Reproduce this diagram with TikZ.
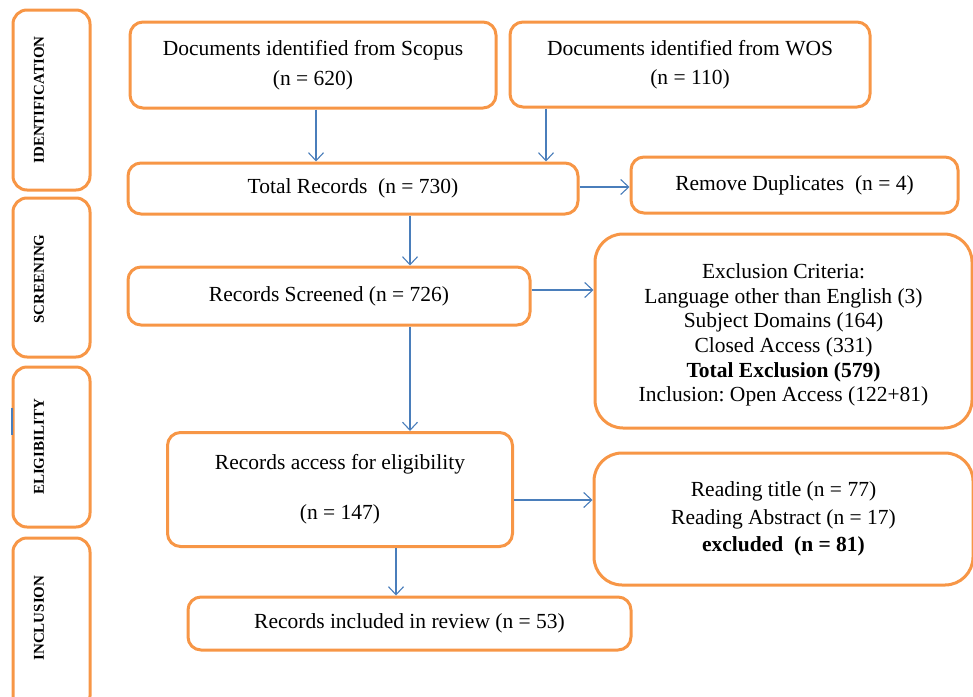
\documentclass[tikz,border=0pt]{standalone}
\usepackage{fontspec}
\setmainfont{Liberation Serif}
\usetikzlibrary{arrows.meta}
\definecolor{boxorange}{HTML}{F79646}
\definecolor{arrblue}{HTML}{4A7EBB}
\begin{document}
\begin{tikzpicture}[x=1pt,y=-1pt,
  txt/.style={inner sep=0pt, align=center, font=\fontsize{21.5}{24.6}\selectfont},
  box/.style={draw=boxorange, line width=3pt, rounded corners=13pt, fill=white, txt},
  bigbox/.style={box, rounded corners=28pt},
  side/.style={draw=boxorange, line width=3pt, rounded corners=14pt, inner sep=0pt,
    minimum width=77pt},
  sidelabel/.style={rotate=90, font=\fontsize{15}{17}\selectfont\bfseries, inner sep=0pt},
  arr/.style={draw=arrblue, line width=1.1pt, -{Straight Barb[length=8pt,width=15pt,line width=1.1pt]}}
]
\useasboundingbox (0,0) rectangle (973,696);

% side stage boxes
\node[side, minimum height=180pt] (idb) at (51.5,100) {};
\node[side, minimum height=159pt] (scb) at (51.5,277.5) {};
\node[side, minimum height=160pt] (elb) at (51.5,447) {};
\node[side, minimum height=172pt] (inb) at (51.5,624) {};
\node[sidelabel] (idl) at (39,100) {IDENTIFICATION};
\node[sidelabel] (scl) at (39,279) {SCREENING};
\node[sidelabel] (ell) at (39,447) {ELIGIBILITY};
\node[sidelabel] (inl) at (39,618) {INCLUSION};
\draw[draw=arrblue, line width=1.5pt] (12,408) -- (12,435);

% main boxes
\node[box, minimum width=366pt, minimum height=86pt] (scopus) at (313,65)
  {Documents identified from Scopus\\[5pt](n = 620)};
\node[box, minimum width=360pt, minimum height=85pt] (wos) at (690,64.5)
  {Documents identified from WOS\\[4pt](n = 110)};
\node[box, minimum width=450pt, minimum height=51pt] (total) at (353,188.5)
  {Total Records\ \ (n = 730)};
\node[box, minimum width=327pt, minimum height=56pt] (dup) at (794.5,185)
  {Remove Duplicates\ \ (n = 4)};
\node[box, minimum width=402pt, minimum height=58pt] (screen) at (329,296)
  {Records Screened (n = 726)};
\node[bigbox, minimum width=377pt, minimum height=194pt] (excl) at (783.5,331) {};
\node[txt] (excltext) at (783.5,335)
  {Exclusion Criteria:\\ Language other than English (3)\\ Subject Domains (164)\\
   Closed Access (331)\\ \textbf{Total Exclusion (579)}\\ Inclusion:\ Open Access (122+81)};
\node[box, minimum width=345pt, minimum height=114pt] (access) at (340,489.5)
  {Records access for eligibility\\[25pt](n = 147)};
\node[bigbox, minimum width=379pt, minimum height=132pt] (read) at (783.5,519)
  {Reading title (n = 77)\\[3pt] Reading Abstract (n = 17)\\[3pt] \textbf{excluded\ \ (n = 81)}};
\node[box, minimum width=443pt, minimum height=53pt] (incl) at (409.5,623.5)
  {Records included in review (n = 53)};

% connectors
\draw[arr] ([xshift=3pt]scopus.south) -- ([xshift=-37pt]total.north);
\draw[arr] ([xshift=-144pt]wos.south) -- ([xshift=193pt]total.north);
\draw[arr] ([yshift=1.5pt]total.east) -- (dup.west |- 0,187);
\draw[arr] ([xshift=57pt]total.south) -- ([xshift=81pt]screen.north);
\draw[arr] ([yshift=6pt]screen.east) -- (excl.west |- 0,290);
\draw[arr] ([xshift=81pt]screen.south) -- ([xshift=70pt]access.north);
\draw[arr] ([yshift=-10.5pt]access.east) -- (read.west |- 0,500);
\draw[arr] ([xshift=56pt]access.south) -- ([xshift=-13.5pt]incl.north);
\end{tikzpicture}
\end{document}
